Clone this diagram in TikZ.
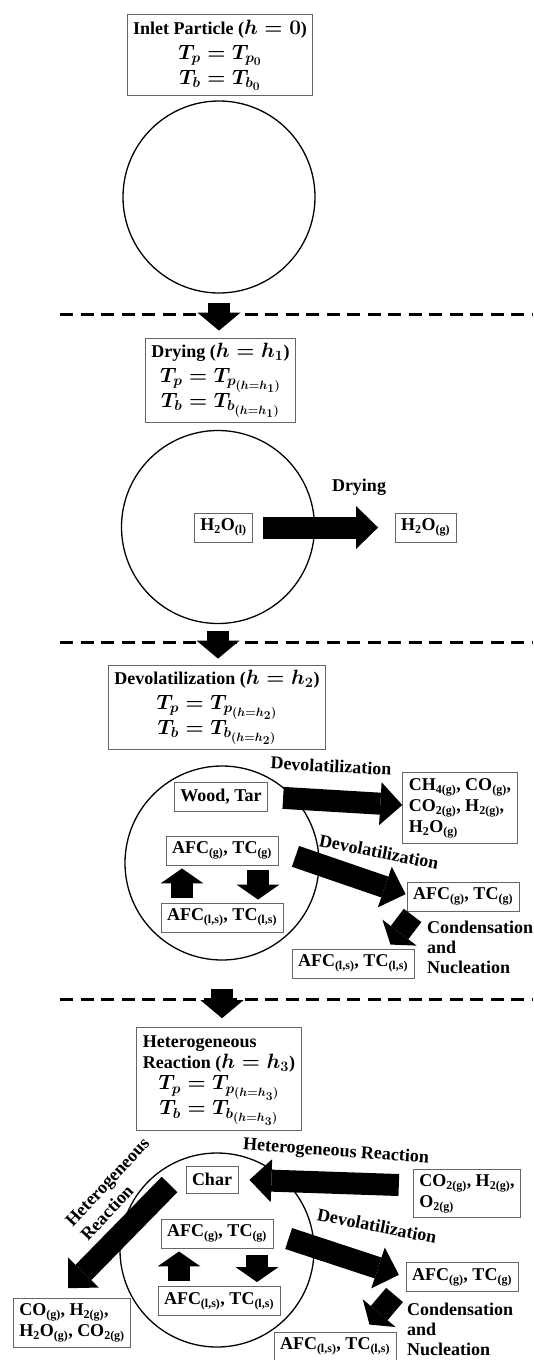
\documentclass[tikz,border=0pt]{standalone}
\usepackage{fontspec}
\setmainfont{Liberation Serif}
\usepackage{tikz}
\usetikzlibrary{arrows.meta,positioning}

\DeclareMathSizes{18}{20}{15}{12}
\newcommand{\subtxt}[1]{\textsubscript{\fontsize{12}{12}\selectfont #1}}
\newcommand{\phg}{\subtxt{(g)}}
\newcommand{\phls}{\subtxt{(l,s)}}

\begin{document}
\begin{tikzpicture}[x=1pt, y=-1pt,
    every node/.style={font=\boldmath\bfseries\fontsize{18}{21}\selectfont},
    box/.style={draw=black!60, line width=0.9pt, fill=white, inner xsep=6pt, inner ysep=5pt, align=center},
    header/.style={box, font=\boldmath\bfseries\fontsize{18}{25}\selectfont},
    chem/.style={box, minimum height=29pt},
    particle/.style={circle, draw, line width=1.3pt, minimum size=#1, inner sep=0pt},
    blockarrow/.style={line width=22pt, -{Triangle[length=#1, width=43pt, line width=0pt]}},
    blockarrow/.default=22pt,
    stagesep/.style={line width=3pt, dash pattern=on 13pt off 7.5pt},
    notes/.style={anchor=north west, align=left, inner sep=0pt, font=\bfseries\fontsize{18}{20}\selectfont}]

  \useasboundingbox (0,0) rectangle (533,1360);

  % inlet
  \node[header] (inlet) at (220,55) {Inlet Particle ($h = 0$)\\$T_p = T_{p_0}$\\$T_b = T_{b_0}$};
  \node[particle=192pt] (p1) at (219,197) {};

  % drying
  \node[header] (drying) at (220.5,380.5) {Drying ($h = h_1$)\\$T_p = T_{p_{(h=h_1)}}$\\$T_b = T_{b_{(h=h_1)}}$};
  \node[particle=193pt] (p2) at (218,527) {};
  \node[chem] (h2ol) at (223.5,527.5) {H\subtxt{2}O\subtxt{(l)}};
  \node[chem] (h2og) at (425.5,527.5) {H\subtxt{2}O\phg};
  \draw[blockarrow, shorten <=10pt, shorten >=16.5pt] (h2ol.east) -- (h2og.west);
  \node at (359,487) {Drying};

  \draw[stagesep] (60,314) -- (533,314);
  \draw[blockarrow=18pt, shorten <=9pt, shorten >=7pt] (p1.south) -- (p1.south |- drying.north);

  % devolatilization
  \node[header] (devol) at (217,707.5) {Devolatilization ($h = h_2$)\\$T_p = T_{p_{(h=h_2)}}$\\$T_b = T_{b_{(h=h_2)}}$};
  \node[particle=194pt] (p3) at (222,863) {};
  \node[chem] (woodA) at (221,797) {Wood, Tar};
  \node[chem] (afcgA) at (222,850.5) {AFC\phg, TC\phg};
  \node[chem] (afclA) at (222,917.5) {AFC\phls, TC\phls};
  \node[box, align=left, inner ysep=6pt] (gasA) at (460,808) {CH\subtxt{4(g)}, CO\phg,\\CO\subtxt{2(g)}, H\subtxt{2(g)},\\H\subtxt{2}O\phg};
  \node[chem] (afcgRA) at (463,896.5) {AFC\phg, TC\phg};
  \node[chem] (afclRA) at (353,963.5) {AFC\phls, TC\phls};

  \draw[blockarrow, shorten <=15pt] (woodA.east) -- ([yshift=3pt]gasA.west);
  \node[rotate=-3] at (331,766) {Devolatilization};
  \draw[blockarrow, shorten <=18pt, shorten >=1pt] (afcgA.east) -- ([yshift=2pt]afcgRA.west);
  \node[rotate=-11] at (379,852) {Devolatilization};
  \draw[blockarrow=15pt] ([shift={(6pt,-4pt)}]afcgRA.south west) -- ([shift={(-24pt,4pt)}]afclRA.north east);
  \node[notes] at (427,921) {Condensation\\and\\Nucleation};
  \draw[blockarrow=15pt, shorten <=5pt, shorten >=3pt] ([xshift=-40pt]afclA.north) -- ([xshift=-40pt]afclA.north |- afcgA.south);
  \draw[blockarrow=15pt, shorten <=5pt, shorten >=3pt] ([xshift=36pt]afcgA.south) -- ([xshift=36pt]afcgA.south |- afclA.north);

  \draw[stagesep] (60,642) -- (533,642);
  \draw[blockarrow=18pt, shorten <=6.5pt, shorten >=6pt] (p2.south) -- (p2.south |- devol.north);

  % heterogeneous reaction
  \node[header] (hetero) at (219,1079) {{\fontsize{18}{21}\selectfont\begin{tabular}{@{}l@{}}Heterogeneous\\Reaction ($h = h_3$)\end{tabular}}\\$T_p = T_{p_{(h=h_3)}}$\\$T_b = T_{b_{(h=h_3)}}$};
  \node[particle=194pt] (p4) at (217,1250) {};
  \node[chem, minimum height=27pt] (char) at (212,1179.5) {Char};
  \node[chem] (afcgB) at (217,1233.5) {AFC\phg, TC\phg};
  \node[chem] (afclB) at (219,1301) {AFC\phls, TC\phls};
  \node[box, align=left, inner ysep=5pt] (gasin) at (467,1193.5) {CO\subtxt{2(g)}, H\subtxt{2(g)},\\O\subtxt{2(g)}};
  \node[box, align=left, inner ysep=5pt] (gasout) at (72,1323) {CO\phg, H\subtxt{2(g)},\\H\subtxt{2}O\phg, CO\subtxt{2(g)}};
  \node[chem] (afcgRB) at (462,1277) {AFC\phg, TC\phg};
  \node[chem] (afclRB) at (335,1346.5) {AFC\phls, TC\phls};

  \draw[blockarrow, shorten <=14pt, shorten >=11pt] ([yshift=8pt]gasin.west) -- (char.east);
  \node[rotate=-4] at (336,1152) {Heterogeneous Reaction};
  \draw[blockarrow] ([shift={(-16pt,9pt)}]char.south west) -- ([shift={(-4pt,10pt)}]gasout.north);
  \node[rotate=47, align=left] at (115,1189) {Heterogeneous\\Reaction};
  \draw[blockarrow, shorten <=16pt, shorten >=7pt] (afcgB.east) -- (afcgRB.west);
  \node[rotate=-11] at (377,1226) {Devolatilization};
  \draw[blockarrow=15pt] ([shift={(-11pt,-3pt)}]afcgRB.south west) -- ([shift={(-27pt,7pt)}]afclRB.north east);
  \node[notes] at (407,1303) {Condensation\\and\\Nucleation};
  \draw[blockarrow=15pt, shorten <=5pt, shorten >=3pt] ([xshift=-40pt]afclB.north) -- ([xshift=-40pt]afclB.north |- afcgB.south);
  \draw[blockarrow=15pt, shorten <=7pt, shorten >=4pt] ([xshift=40pt]afcgB.south) -- ([xshift=40pt]afcgB.south |- afclB.north);

  \draw[stagesep] (60,999) -- (533,999);
  \draw[blockarrow=18pt, shorten <=28pt, shorten >=9pt] (p3.south) -- (p3.south |- hetero.north);
\end{tikzpicture}
\end{document}
